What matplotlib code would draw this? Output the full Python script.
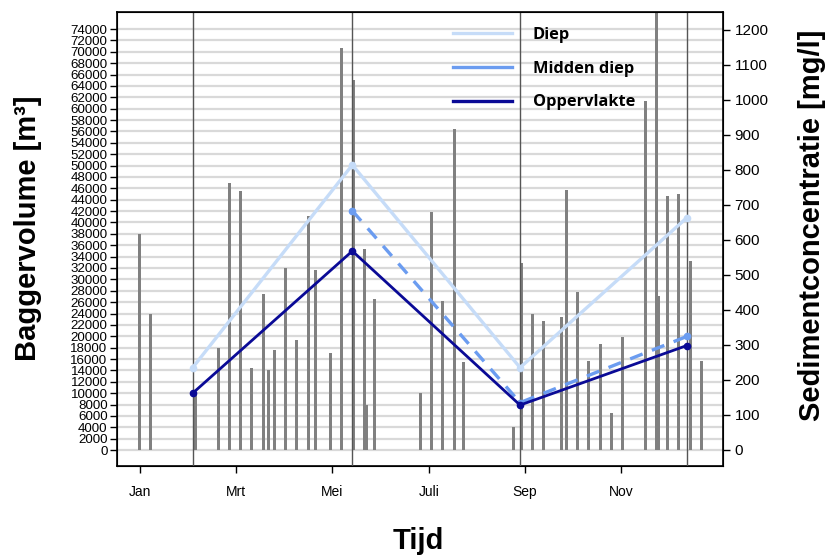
import numpy as np
import matplotlib.pyplot as plt
from matplotlib.lines import Line2D

plt.rcParams['font.family'] = ['Liberation Sans', 'DejaVu Sans']

# baggervolume per bagger-actie (tijd in maanden, 1 = begin januari)
maand_bag = [0.985, 1.222, 2.158, 2.627, 2.856, 3.084, 3.321, 3.562, 3.666, 3.785,
             4.028, 4.256, 4.498, 4.651, 4.955, 5.192, 5.433, 5.661, 5.707, 5.877,
             6.825, 7.054, 7.291, 7.525, 7.719, 8.758, 8.932, 9.153, 9.390, 9.755,
             9.859, 10.096, 10.325, 10.559, 10.794, 11.031, 11.495, 11.723, 11.779,
             11.958, 12.195, 12.430, 12.665]
volume = [38000, 24000, 10000, 18000, 47000, 45600, 14400, 27500, 14000, 17500,
          32000, 19300, 41200, 31600, 17000, 70700, 65000, 35400, 8000, 26500,
          10000, 41800, 26200, 56400, 15500, 4000, 32800, 24000, 22700, 23400,
          45700, 27800, 15600, 18600, 6600, 19900, 61300, 80000, 27000,
          44600, 45000, 33300, 15600]

# sedimentconcentratie op de meetmomenten
maand_meting = [2.095, 5.412, 8.897, 12.361]
diep = [235, 814, 235, 663]
midden_diep = [np.nan, 683, 135, 324]
oppervlakte = [162, 568, 128, 298]

maand_ticks = [1, 3, 5, 7, 9, 11]
maand_labels = ['Jan', 'Mrt', 'Mei', 'Juli', 'Sep', 'Nov']

fig = plt.figure(figsize=(8.27, 5.57), dpi=100)
ax = fig.add_axes([0.1418, 0.1634, 0.7328, 0.8151])

ax.set_xlim(0.528, 13.12)
ax.set_ylim(-2800, 77000)
ax.set_yticks(np.arange(0, 74001, 2000))
for t in np.arange(0, 74001, 2000):
    ax.axhline(t, color='#d9d9d9', lw=1.6, zorder=0)

ax.bar(maand_bag, volume, width=0.062, color='#808080', zorder=2)
for m in maand_meting:
    ax.axvline(m, color='#555555', lw=1.0, zorder=3)

ax.set_xticks(maand_ticks)
ax.set_xticklabels(maand_labels)
ax.tick_params(axis='x', length=5, width=1, pad=9, labelsize=10)
ax.tick_params(axis='y', length=5, width=1, pad=2, labelsize=9.6)
for s in ax.spines.values():
    s.set_linewidth(1.2)

ax2 = ax.twinx()
ax2.set_ylim(-46, 1251)
ax2.set_yticks(np.arange(0, 1201, 100))
ax2.tick_params(axis='y', length=5, width=1, pad=3, labelsize=11)

kl_diep = '#c6dcf8'
kl_midden = '#6b9cf0'
kl_opp = '#0a0a96'
ax2.plot(maand_meting, diep, color=kl_diep, lw=2.4, marker='o', ms=4.5)
ax2.plot(maand_meting, midden_diep, color=kl_midden, lw=2.4, ls=(0, (4, 3)),
         marker='o', ms=4.5)
ax2.plot(maand_meting, oppervlakte, color=kl_opp, lw=2.0, marker='o', ms=4.5)

handles = [Line2D([], [], color=kl_diep, lw=2.4),
           Line2D([], [], color=kl_midden, lw=2.4),
           Line2D([], [], color=kl_opp, lw=2.4)]
ax2.legend(handles, ['Diep', 'Midden diep', 'Oppervlakte'], loc='upper left',
           bbox_to_anchor=(0.529, 0.999), frameon=False, handlelength=3.6,
           handletextpad=1.3, labelspacing=1.07,
           prop={'family': 'Open Sans', 'weight': 'bold', 'size': 11.8})

fig.text(28 / 827, 1 - 228 / 557, 'Baggervolume [m³]', rotation=90,
         ha='center', va='center', fontsize=21, fontweight='bold')
fig.text(812 / 827, 1 - 225 / 557, 'Sedimentconcentratie [mg/l]', rotation=90,
         ha='center', va='center', fontsize=21, fontweight='bold')
fig.text(418 / 827, 1 - 541 / 557, 'Tijd', ha='center', va='center',
         fontsize=21, fontweight='bold')

fig.savefig('out.png', dpi=100)
